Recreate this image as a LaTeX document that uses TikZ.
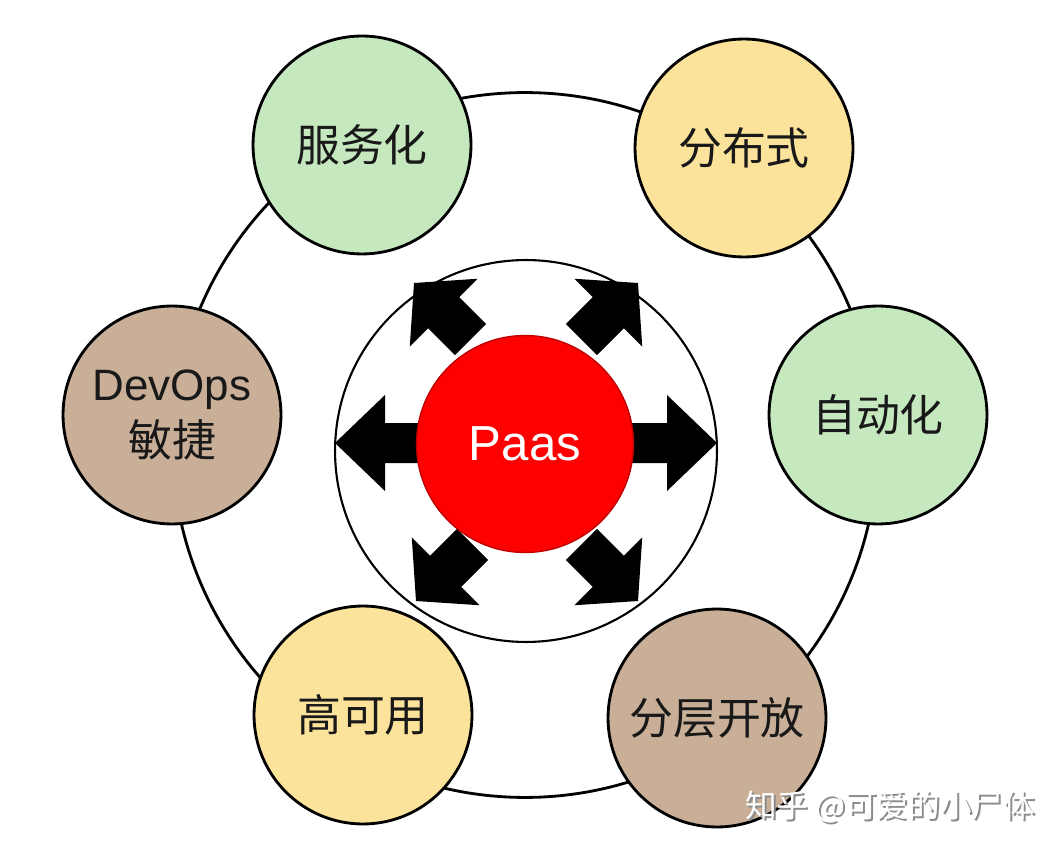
\documentclass[tikz,border=0pt]{standalone}
\usepackage{fontspec}
\setmainfont{Liberation Sans}
\newfontfamily\cjk{Noto Sans CJK SC}
\usepackage{tikz}
\definecolor{lgreen}{HTML}{C6E8BF}
\definecolor{lyellow}{HTML}{FCE39B}
\definecolor{ltan}{HTML}{C9AF97}
\definecolor{paasred}{HTML}{FF0000}

\begin{document}
\begin{tikzpicture}[x=0.02cm, y=-0.02cm,
    topic/.style={circle, draw=black, line width=1.6pt, minimum size=4.36cm, inner sep=0pt,
                  align=center, text=black!90, font=\fontsize{25}{32}\selectfont\cjk},
    core/.style={circle, draw=paasred!75!black, line width=0.8pt, fill=paasred, minimum size=4.34cm,
                 text=white, font=\fontsize{28}{32}\selectfont}]

    \useasboundingbox (0,0) rectangle (1064,854);

    % ---- outer ring and inner disc
    \node[circle, draw=black, line width=1.6pt, minimum size=14.1cm] (ring) at (525,445) {};
    \node[circle, draw=black, line width=1.2pt, fill=white, minimum size=7.64cm] (disc) at (526,451) {};

    % ---- block arrows, sideways
    \foreach \ang/\tx/\ty in {0/717/443, 180/335/443}
      \fill[black, shift={(\tx,\ty)}, rotate=\ang]
        (0,0) -- (-50,-48) -- (-50,-20) -- (-120,-20) -- (-120,20) -- (-50,20) -- (-50,48) -- cycle;
    % ---- block arrows, corners (short, apart from the centre)
    \foreach \ang/\tx/\ty in {45/638/283, 135/414/283, 225/416/601, 315/638/601}
      \fill[black, shift={(\tx,\ty)}, rotate=\ang]
        (0,0) -- (-42,-48) -- (-42,-22) -- (-80,-22) -- (-80,22) -- (-42,22) -- (-42,48) -- cycle;

    % ---- centre
    \node[core] (paas) at (525,444) {Paas};

    % ---- topics
    \foreach \name/\x/\y/\col/\txt in {serv/362/145/lgreen/服务化, dist/744/148/lyellow/分布式,
        auto/878/415/lgreen/自动化, layer/717/718/ltan/分层开放, avail/363/715/lyellow/高可用}
      \node[topic, fill=\col] (\name) at (\x,\y) {\txt};
    \node[topic, fill=ltan] (devops) at (172,415) {{\normalfont DevOps}\\敏捷};

    % ---- watermark
    \node[text=black!45, font=\fontsize{18}{20}\selectfont\cjk] (wmshadow) at (892,809) {知乎 @可爱的小尸体};
    \node[text=white, font=\fontsize{18}{20}\selectfont\cjk] (wm) at (890,807) {知乎 @可爱的小尸体};
\end{tikzpicture}
\end{document}
